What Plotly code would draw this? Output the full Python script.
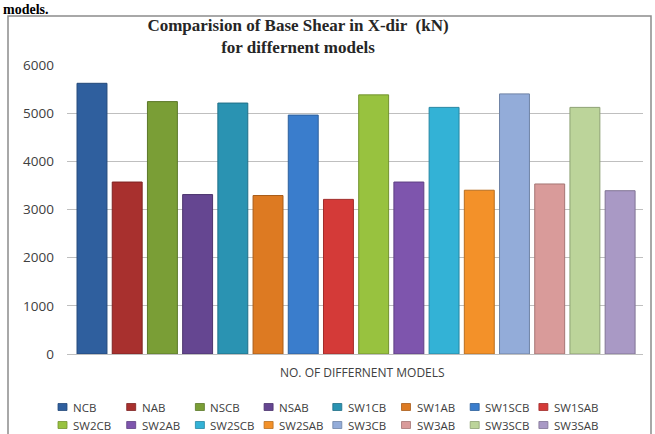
import plotly.graph_objects as go

# Base shear in X-direction (kN) for each building model
models = ["NCB", "NAB", "NSCB", "NSAB", "SW1CB", "SW1AB", "SW1SCB", "SW1SAB",
          "SW2CB", "SW2AB", "SW2SCB", "SW2SAB", "SW3CB", "SW3AB", "SW3SCB", "SW3SAB"]
base_shear = [5620, 3570, 5240, 3310, 5210, 3290, 4960, 3210,
              5380, 3570, 5120, 3400, 5400, 3530, 5120, 3390]
y_ticks = [0, 1000, 2000, 3000, 4000, 5000, 6000]

fill_colors = ["#2f5f9e", "#a8302e", "#7a9e36", "#654691", "#2a93b2", "#dd7a22",
               "#3a7dcc", "#d43a38", "#98c23f", "#7e55ad", "#33b2d6", "#f39129",
               "#93acd9", "#d99b9a", "#bcd49a", "#a999c5"]
edge_colors = ["#23497a", "#7e2322", "#5b7828", "#4b346d", "#1f6f87", "#a85c19",
               "#2c5f9b", "#a02c2a", "#73932f", "#5f4083", "#2686a2", "#b86e1f",
               "#6f83a5", "#a57574", "#8ea174", "#807495"]

W, H = 655, 434
L, R, T, B = 67, 12, 65, 80
pw, ph = W - L - R, H - T - B


def px(x):
    return (x - L) / pw


def py(y):
    return (H - B - y) / ph


fig = go.Figure()
for name, val, fc, ec in zip(models, base_shear, fill_colors, edge_colors):
    fig.add_trace(go.Bar(
        x=[name], y=[val], name=name, showlegend=False,
        marker=dict(color=fc, line=dict(color=ec, width=1)),
    ))

shapes = []
annotations = []

# outer frame of the chart
shapes.append(dict(type="rect", xref="paper", yref="paper",
                   x0=px(8), x1=px(651), y0=py(440), y1=py(16),
                   line=dict(color="#8c8c8c", width=1.5), fillcolor="rgba(0,0,0,0)",
                   layer="below"))

# legend: two rows of eight entries
for i, (name, fc, ec) in enumerate(zip(models, fill_colors, edge_colors)):
    col, row = i % 8, i // 8
    cx = 63 + col * 68.7
    cy = 407 + row * 18
    shapes.append(dict(type="rect", xref="paper", yref="paper",
                       x0=px(cx - 5), x1=px(cx + 4), y0=py(cy + 3.5), y1=py(cy - 3.5),
                       fillcolor=fc, line=dict(color=ec, width=0.8)))
    annotations.append(dict(text=name, xref="paper", yref="paper",
                            x=px(cx + 8), y=py(cy), xanchor="left", yanchor="middle",
                            showarrow=False,
                            font=dict(family="Open Sans", size=11.5, color="#404040")))

# x-axis caption
annotations.append(dict(text="NO. OF DIFFERNENT MODELS", xref="paper", yref="paper",
                        x=px(362), y=py(373), xanchor="center", yanchor="middle",
                        showarrow=False,
                        font=dict(family="Open Sans", size=12, color="#404040")))

# heading line from the surrounding page, at the top edge
annotations.append(dict(text="<b>models.</b>", xref="paper", yref="paper",
                        x=px(2), y=py(18), xanchor="left", yanchor="bottom",
                        showarrow=False, borderpad=0,
                        font=dict(family="Liberation Serif", size=14, color="#000000")))

fig.update_layout(
    width=W, height=H,
    margin=dict(l=L, r=R, t=T, b=B),
    paper_bgcolor="white", plot_bgcolor="white",
    bargap=0.15,
    title=dict(text="<b>Comparision of Base Shear in X-dir  (kN)<br>for differnent models</b>",
               x=298 / W, xanchor="center", xref="container",
               y=1 - 31 / H, yanchor="top", yref="container",
               font=dict(family="Liberation Serif", size=17, color="#262626")),
    shapes=shapes,
    annotations=annotations,
)

fig.update_xaxes(type="category", categoryorder="array", categoryarray=models,
                 range=[-0.71, 15.65], showticklabels=False, showgrid=False,
                 showline=False, zeroline=False, ticks="")
fig.update_yaxes(range=[0, 6000], tickvals=y_ticks, showgrid=True,
                 gridcolor="#bfbfbf", gridwidth=1, zeroline=True,
                 zerolinecolor="#bfbfbf", zerolinewidth=1, showline=False,
                 ticks="", ticklabelstandoff=12,
                 tickfont=dict(family="Open Sans", size=13.5, color="#404040"))

fig.write_html("out.html")
